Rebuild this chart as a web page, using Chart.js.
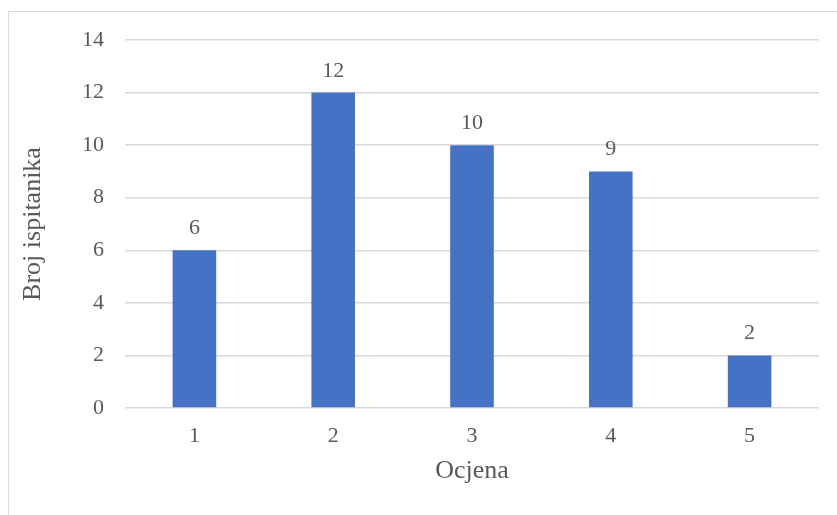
<!DOCTYPE html>
<html>
<head>
<meta charset="utf-8">
<script src="https://cdn.jsdelivr.net/npm/chart.js@4/dist/chart.umd.min.js"></script>
<style>
  html, body { margin: 0; padding: 0; background: #fff; overflow: hidden; }
  #wrap { position: relative; width: 837px; height: 515px; }
  #frame { position: absolute; left: 8px; top: 11px; width: 900px; height: 600px;
           border: 1px solid #d9d9d9; box-sizing: border-box; pointer-events: none; }
  canvas { position: absolute; left: 0; top: 0; }
</style>
</head>
<body>
<div id="wrap">
  <div id="frame"></div>
  <canvas id="chart" width="837" height="515"></canvas>
</div>
<script>
const categories = ['1', '2', '3', '4', '5'];
const counts = [6, 12, 10, 9, 2];
const yTicks = [0, 2, 4, 6, 8, 10, 12, 14];

const textColor = '#595959';
const serif = "'Liberation Serif', 'Times New Roman', serif";

const valueLabels = {
  id: 'valueLabels',
  afterDatasetsDraw(chart) {
    const ctx = chart.ctx;
    const meta = chart.getDatasetMeta(0);
    ctx.save();
    ctx.font = '22px ' + serif;
    ctx.fillStyle = textColor;
    ctx.textAlign = 'center';
    ctx.textBaseline = 'alphabetic';
    meta.data.forEach((bar, i) => {
      ctx.fillText(String(counts[i]), bar.x, bar.y - 16);
    });
    ctx.restore();
  }
};

new Chart(document.getElementById('chart'), {
  type: 'bar',
  data: {
    labels: categories,
    datasets: [{
      label: 'Broj ispitanika',
      data: counts,
      backgroundColor: '#4472C4',
      barPercentage: 0.314,
      categoryPercentage: 1
    }]
  },
  options: {
    responsive: false,
    animation: false,
    devicePixelRatio: 1,
    layout: { padding: { top: 40, right: 18, left: 0, bottom: 0 } },
    plugins: {
      legend: { display: false },
      tooltip: { enabled: false }
    },
    scales: {
      x: {
        grid: { display: false, drawTicks: false },
        border: { display: false },
        ticks: { color: textColor, font: { family: serif, size: 22 }, padding: 15 },
        title: { display: true, text: 'Ocjena', color: textColor,
                 font: { family: serif, size: 26 }, padding: { top: 0, bottom: 28 } },
        afterFit(scale) { scale.height = 107; }
      },
      y: {
        min: 0,
        max: 14,
        afterBuildTicks(scale) { scale.ticks = yTicks.map(v => ({ value: v })); },
        grid: { color: '#d9d9d9', lineWidth: 1.5, drawTicks: false },
        border: { display: false },
        ticks: { color: textColor, font: { family: serif, size: 22 }, padding: 21 },
        title: { display: true, text: 'Broj ispitanika', color: textColor,
                 font: { family: serif, size: 26 }, padding: { top: 18, bottom: 0 } },
        afterFit(scale) { scale.width = 125; }
      }
    }
  },
  plugins: [valueLabels]
});
</script>
</body>
</html>
